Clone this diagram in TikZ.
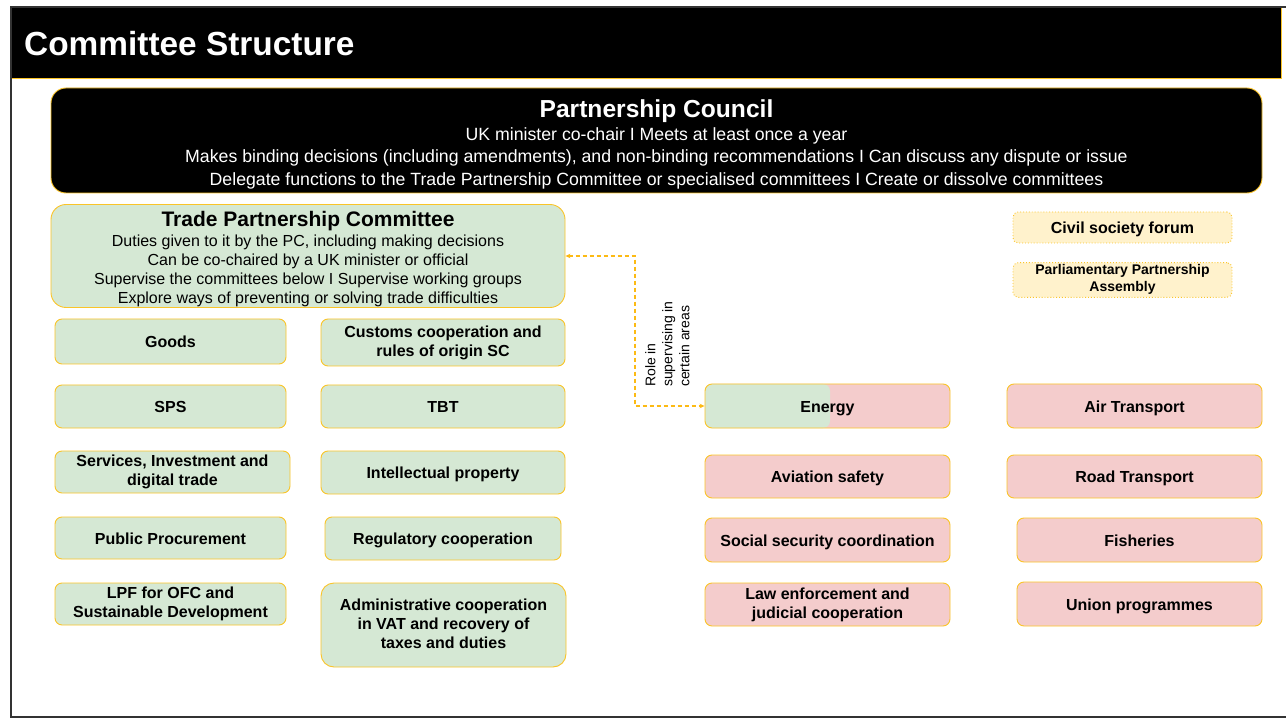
\documentclass[tikz,border=0pt]{standalone}
\usepackage{fontspec}
\setmainfont{Liberation Sans}
\usetikzlibrary{arrows.meta}
\usetikzlibrary{positioning}

\definecolor{boxline}{RGB}{250,196,40}
\definecolor{linkline}{RGB}{252,186,20}
\definecolor{greenfill}{HTML}{D5E8D4}
\definecolor{redfill}{HTML}{F4CCCC}
\definecolor{creamfill}{HTML}{FFF2CC}
\definecolor{framegrey}{HTML}{333333}
\newcommand{\boxstrut}{\rule[-3.5pt]{0pt}{19.5pt}}

\begin{document}
\begin{tikzpicture}[x=1pt,y=-1pt,
              box/.style={draw=boxline, line width=0.9pt, rounded corners=7pt,
                align=center, inner sep=2pt,
                font=\fontsize{16}{19}\selectfont\bfseries},
              smallbox/.style={box, execute at begin node=\boxstrut, execute at end node=\boxstrut},
              greenbox/.style={smallbox, fill=greenfill},
              redbox/.style={smallbox, fill=redfill},
              creambox/.style={smallbox, fill=creamfill, dotted, rounded corners=5pt},
              link/.style={draw=linkline, line width=1.1pt, dash pattern=on 4pt off 3pt,
                {Stealth[length=5pt,width=4.5pt]}-{Stealth[length=5pt,width=4.5pt]}}]
  \useasboundingbox (0,0) rectangle (1286,719);
  \fill[black] (11,8) rectangle (1281,78);
  \draw[boxline, line width=0.9pt] (11,78) -- (1281,78) -- (1281,8);
  \draw[framegrey, line width=1.5pt] (1286,7) -- (11,7) -- (11,717) -- (1286,717);
  \node[anchor=west, text=white, inner sep=0pt,
        font=\fontsize{33.4}{36}\selectfont\bfseries] (title) at (24,43.5) {Committee Structure};

  \node[box, fill=black, text=white, rounded corners=15pt, minimum width=1211, minimum height=105,
        inner ysep=0pt, font=\fontsize{17.7}{22.5}\selectfont] (pc) at (656.5,140.5)
    {\rule{0pt}{26pt}{\fontsize{24.6}{28}\selectfont\bfseries Partnership Council}\\
     UK minister co-chair I Meets at least once a year\\
     Makes binding decisions (including amendments), and non-binding recommendations I Can discuss any dispute or issue\\
     Delegate functions to the Trade Partnership Committee or specialised committees I Create or dissolve committees};

  \node[box, fill=greenfill, rounded corners=15pt, minimum width=514, minimum height=103,
        inner ysep=0pt, font=\fontsize{16}{19}\selectfont] (tpc) at (308,256)
    {\rule{0pt}{21.5pt}{\fontsize{21}{24}\selectfont\bfseries Trade Partnership Committee}\\[1pt]
     Duties given to it by the PC, including making decisions\\
     Can be co-chaired by a UK minister or official\\
     Supervise the committees below I Supervise working groups\\
     Explore ways of preventing or solving trade difficulties};

  \node[greenbox, minimum width=231, minimum height=45] (goods) at (170.5,341.5) {Goods};
  \node[greenbox, minimum width=231, minimum height=43] (sps) at (170.5,406.5) {SPS};
  \node[greenbox, minimum width=235, minimum height=42] (services) at (172.5,472) {Services, Investment and\\digital trade};
  \node[greenbox, minimum width=231, minimum height=42] (procurement) at (170.5,538) {Public Procurement};
  \node[greenbox, minimum width=231, minimum height=42] (lpf) at (170.5,604) {LPF for OFC and\\Sustainable Development};

  \node[greenbox, minimum width=244, minimum height=47] (customs) at (443,342.5) {Customs cooperation and\\rules of origin SC};
  \node[greenbox, minimum width=244, minimum height=43] (tbt) at (443,406.5) {TBT};
  \node[greenbox, minimum width=244, minimum height=43] (ip) at (443,472.5) {Intellectual property};
  \node[greenbox, minimum width=236, minimum height=43] (regulatory) at (443,538.5) {Regulatory cooperation};
  \node[greenbox, rounded corners=13pt, minimum width=245, minimum height=84] (vat) at (443.5,625)
    {Administrative cooperation\\in VAT and recovery of\\taxes and duties};

  \node[redbox, minimum width=245, minimum height=44,
        path picture={\fill[greenfill] (path picture bounding box.south west)
          rectangle ([xshift=2.5pt]path picture bounding box.north);}] (energy) at (827.5,406) {Energy};
  \node[redbox, minimum width=245, minimum height=43] (aviation) at (827.5,476.5) {Aviation safety};
  \node[redbox, minimum width=245, minimum height=44] (social) at (827.5,540) {Social security coordination};
  \node[redbox, minimum width=245, minimum height=43] (law) at (827.5,604.5) {Law enforcement and\\judicial cooperation};

  \node[redbox, minimum width=255, minimum height=44] (air) at (1134.5,406) {Air Transport};
  \node[redbox, minimum width=255, minimum height=43] (road) at (1134.5,476.5) {Road Transport};
  \node[redbox, minimum width=245, minimum height=44] (fisheries) at (1139.5,540) {Fisheries};
  \node[redbox, minimum width=245, minimum height=44] (union) at (1139.5,604) {Union programmes};

  \node[creambox, minimum width=219, minimum height=31] (forum) at (1122.5,227.5) {Civil society forum};
  \node[creambox, minimum width=219, minimum height=32,
        font=\fontsize{14}{17}\selectfont\bfseries] (assembly) at (1122.5,280) {Parliamentary Partnership\\Assembly};

  \coordinate (bend) at (635,256);
  \draw[link] (tpc.east) -- (bend) |- (energy.west);
  \node[rotate=90, anchor=north west, align=left, inner sep=0pt,
        font=\fontsize{14}{17}\selectfont] (role) at (645,387) {Role in\\supervising in\\certain areas};
\end{tikzpicture}
\end{document}
